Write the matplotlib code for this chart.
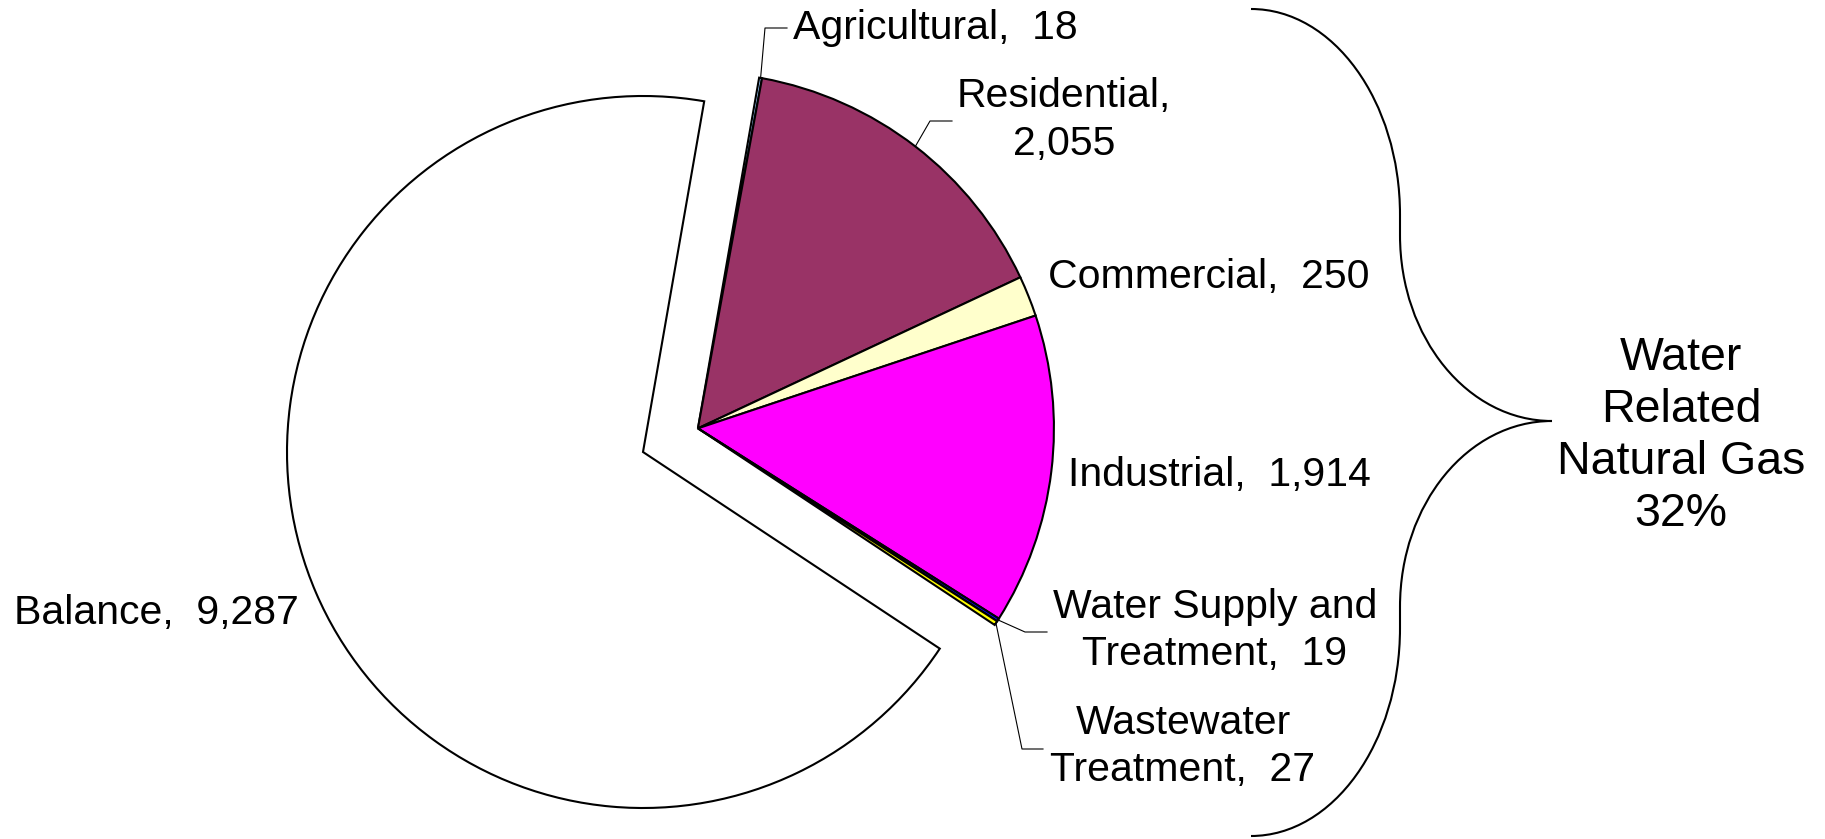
import matplotlib
matplotlib.use("Agg")  # no display
import matplotlib.pyplot as plt
import numpy as np
from matplotlib.path import Path
from matplotlib.patches import PathPatch

plt.rcParams["font.family"] = ["Liberation Sans", "DejaVu Sans"]

# data
categories = ["Agricultural", "Residential", "Commercial", "Industrial",
              "Water Supply and Treatment", "Wastewater Treatment", "Balance"]
values = [18, 2055, 250, 1914, 19, 27, 9287]
label_texts = ["Agricultural,  18", "Residential,\n2,055", "Commercial,  250",
               "Industrial,  1,914", "Water Supply and\nTreatment,  19",
               "Wastewater\nTreatment,  27", "Balance,  9,287"]
water_related = [True, True, True, True, True, True, False]
colors = ["#99CCFF", "#993366", "#FFFFCC", "#FF00FF", "#0000FF", "#FFFF00", "#FFFFFF"]

W, H = 1825, 839
CENTER = (643, 452)
RADIUS = 356
START = 80.1
EXPLODE = 0.168


def draw():
    fig = plt.figure(figsize=(W / 100, H / 100), dpi=100)
    ax = fig.add_axes([0, 0, 1, 1])

    total = sum(values)
    water_sum = sum(v for v, w in zip(values, water_related) if w)
    # group offset along the middle of the water related part
    mid = np.deg2rad(START - water_sum / total * 360 / 2)
    center2 = (CENTER[0] + EXPLODE * RADIUS * np.cos(mid),
               CENTER[1] - EXPLODE * RADIUS * np.sin(mid))

    wp = dict(edgecolor="black", linewidth=1.5)
    # y axis is inverted, so counterclock in data = clockwise on screen
    wedges1, _ = ax.pie(values, colors=colors, startangle=-START, counterclock=True,
                        center=CENTER, radius=RADIUS, wedgeprops=wp)
    wedges2, _ = ax.pie(values, colors=colors, startangle=-START, counterclock=True,
                        center=center2, radius=RADIUS, wedgeprops=wp)
    for w1, w2, wr in zip(wedges1, wedges2, water_related):
        if wr:
            w1.set_visible(False)
        else:
            w2.set_visible(False)

    def anchor(w):
        t = np.deg2rad((w.theta1 + w.theta2) / 2)
        return w.center[0] + w.r * np.cos(t), w.center[1] + w.r * np.sin(t)

    # label position, alignment, leader elbow points
    layout = [
        ((793, 28), "left", [(765, 28), (787, 28)]),
        ((1064, 120), "center", [(930, 121), (952, 121)]),
        ((1048, 277), "left", None),
        ((1068, 475), "left", None),
        ((1215, 630), "center", [(1025, 632), (1047, 632)]),
        ((1183, 747), "center", [(1022, 749), (1043, 749)]),
        ((14, 613), "left", None),
    ]
    wedges = [w2 if wr else w1 for w1, w2, wr in zip(wedges1, wedges2, water_related)]
    for w, txt, (pos, ha, leader) in zip(wedges, label_texts, layout):
        ax.text(pos[0], pos[1], txt, ha=ha, va="center", multialignment="center",
                fontsize=29.5, color="black", linespacing=1.3)
        if leader:
            ax0 = anchor(w)
            xs = [ax0[0]] + [p[0] for p in leader]
            ys = [ax0[1]] + [p[1] for p in leader]
            ax.plot(xs, ys, color="black", linewidth=0.8)

    # curly brace
    verts = [(1251, 9), (1333, 9), (1400, 101), (1400, 215),
             (1400, 235),
             (1400, 338), (1468, 421), (1552, 421),
             (1468, 421), (1400, 504), (1400, 607),
             (1400, 628),
             (1400, 743), (1333, 836), (1251, 836)]
    codes = [Path.MOVETO] + [Path.CURVE4] * 3 + [Path.LINETO] + [Path.CURVE4] * 6 \
        + [Path.LINETO] + [Path.CURVE4] * 3
    ax.add_patch(PathPatch(Path(verts, codes), facecolor="none",
                           edgecolor="black", linewidth=1.5))

    pct = 100 * water_sum / total
    ax.text(1681, 436, f"Water\nRelated\nNatural Gas\n{pct:.0f}%", ha="center",
            va="center", fontsize=33.5, linespacing=1.24)

    ax.set_xlim(0, W)
    ax.set_ylim(H, 0)
    ax.set_aspect("equal")
    ax.axis("off")

    fig.savefig("out.png", dpi=100, facecolor="white")
    plt.close(fig)


if __name__ == "__main__":
    draw()
